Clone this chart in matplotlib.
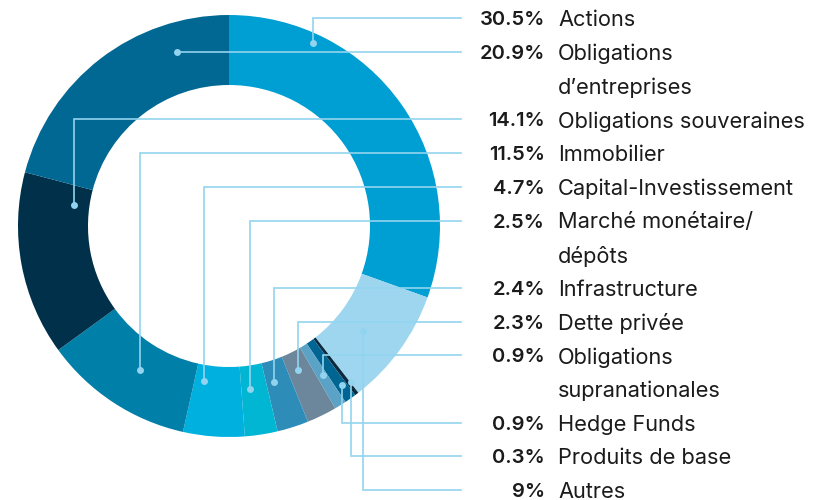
import matplotlib
matplotlib.use('Agg')
import matplotlib.pyplot as plt

# allocation, clockwise from 12 o'clock
SLICE_LABELS = ['Actions', 'Autres', 'Produits de base', 'Hedge Funds',
                'Obligations\nsupranationales', 'Dette privée', 'Infrastructure',
                'Marché monétaire/\ndépôts', 'Capital-Investissement', 'Immobilier',
                'Obligations souveraines', 'Obligations\nd\u2019entreprises']
SLICE_VALUES = [30.5, 9, 0.3, 0.9, 0.9, 2.3, 2.4, 2.5, 4.7, 11.5, 14.1, 20.9]
SLICE_TEXT = ['30.5%', '9%', '0.3%', '0.9%', '0.9%', '2.3%', '2.4%', '2.5%',
              '4.7%', '11.5%', '14.1%', '20.9%']
SLICE_COLORS = ['#009fd3', '#9dd6ee', '#0c2b40', '#006592', '#5aa3c7', '#6c879b',
                '#2e8db8', '#00b6d2', '#00b0de', '#0080a8', '#00304a', '#016893']

# order of the list on the right
LEGEND_ORDER = [0, 11, 10, 9, 8, 7, 6, 5, 4, 3, 2, 1]

# leader-line anchor dots (pixel coords, y down), in legend order
DOTS = [(313, 43), (177, 52), (74, 205), (140, 370), (204, 381), (250, 389),
        (274, 382), (298, 370), (323, 375), (342, 385), (351, 382), (363, 331)]

W, H = 820, 500
CX, CY, R_OUT, R_IN = 229, 226, 211, 141
ROW0, ROW_STEP = 18.3, 33.7
LINE_END = 461
PCT_X, LBL_X = 545, 558
LINE_COLOR = '#92d4ef'
TEXT_COLOR = '#1b1b1b'

plt.rcParams['font.family'] = ['Inter', 'DejaVu Sans']

fig = plt.figure(figsize=(W / 100, H / 100), dpi=100)
ax = fig.add_axes([0, 0, 1, 1])

ax.pie(SLICE_VALUES, colors=SLICE_COLORS, startangle=90, counterclock=False,
       radius=R_OUT, center=(CX, H - CY), frame=True,
       wedgeprops=dict(width=R_OUT - R_IN, linewidth=0))

row = 0
for k, idx in enumerate(LEGEND_ORDER):
    y = H - (ROW0 + ROW_STEP * row)
    dx, dy = DOTS[k]
    dy = H - dy
    ax.plot([LINE_END, dx, dx], [y, y, dy], color=LINE_COLOR, lw=1.2,
            solid_joinstyle='miter', zorder=3)
    ax.plot(dx, dy, 'o', color=LINE_COLOR, ms=5, mew=0, zorder=4)
    ax.text(PCT_X, y, SLICE_TEXT[idx], ha='right', va='center_baseline',
            fontsize=14.5, fontweight='semibold', color=TEXT_COLOR)
    for j, line in enumerate(SLICE_LABELS[idx].split('\n')):
        ax.text(LBL_X, y - ROW_STEP * j, line, ha='left', va='center_baseline',
                fontsize=15.7, color=TEXT_COLOR)
    row += len(SLICE_LABELS[idx].split('\n'))

ax.set_xlim(0, W)
ax.set_ylim(0, H)
ax.set_aspect('auto')
ax.axis('off')

fig.savefig('out.png', dpi=100)
